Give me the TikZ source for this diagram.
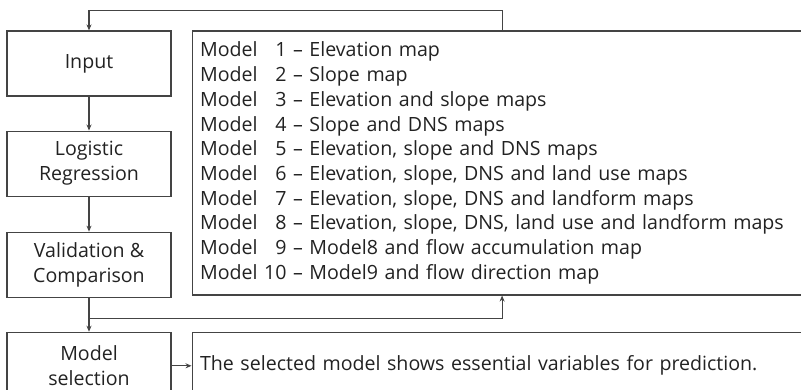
\documentclass[tikz,border=0pt]{standalone}
\usepackage{fontspec}
\setmainfont{Open Sans}
\usepackage{xcolor}
\definecolor{linegray}{HTML}{444444}
\definecolor{textgray}{HTML}{222222}
\usepackage{tikz}
\usetikzlibrary{arrows.meta, positioning, calc}

\begin{document}
\begin{tikzpicture}[x=1pt, y=1pt, >={Stealth[length=6pt,width=5pt]},
  line width=1.1pt,
  stagebox/.style={draw=linegray, minimum width=164pt, minimum height=65pt,
    align=center, text=textgray, font=\fontsize{19.6}{25}\selectfont},
  widebox/.style={draw=linegray, minimum width=620pt, anchor=north west,
    inner xsep=8pt, text=textgray, font=\fontsize{19.6}{24.7}\selectfont},
  flow/.style={->, draw=linegray}]

  \useasboundingbox (0,0) rectangle (801,390);

  % left column
  \node[stagebox] (input) at (89,326.5) {Input};
  \node[stagebox, below=34pt of input] (logit) {Logistic\\Regression};
  \node[stagebox, below=35pt of logit] (valid) {Validation \&\\Comparison};
  \node[stagebox, minimum height=67pt, below=34pt of valid] (select) {Model\\selection};

  % right column
  \node[widebox, minimum height=264pt, text width=604pt, align=left]
    at ([xshift=20pt]input.north east) (models)
    {Model \hphantom{1}1 -- Elevation map\\
     Model \hphantom{1}2 -- Slope map\\
     Model \hphantom{1}3 -- Elevation and slope maps\\
     Model \hphantom{1}4 -- Slope and DNS maps\\
     Model \hphantom{1}5 -- Elevation, slope and DNS maps\\
     Model \hphantom{1}6 -- Elevation, slope, DNS and land use maps\\
     Model \hphantom{1}7 -- Elevation, slope, DNS and landform maps\\
     Model \hphantom{1}8 -- Elevation, slope, DNS, land use and landform maps\\
     Model \hphantom{1}9 -- Model8 and flow accumulation map\\
     Model 10 -- Model9 and flow direction map};
  \node[widebox, minimum height=67pt, text width=604pt, align=left]
    at ([xshift=20pt]select.north east) (result)
    {The selected model shows essential variables for prediction.};

  \coordinate (split) at ([yshift=-21pt]valid.south);

  \draw[flow] (input) -- (logit);
  \draw[flow] (logit) -- (valid);
  \draw[flow] (valid) -- (select);
  \draw[flow] (split) -| (models.south);
  \draw[flow] (models.north) -- ++(0,20) -| (input.north);
  \draw[flow] (select) -- (result);

\end{tikzpicture}
\end{document}
